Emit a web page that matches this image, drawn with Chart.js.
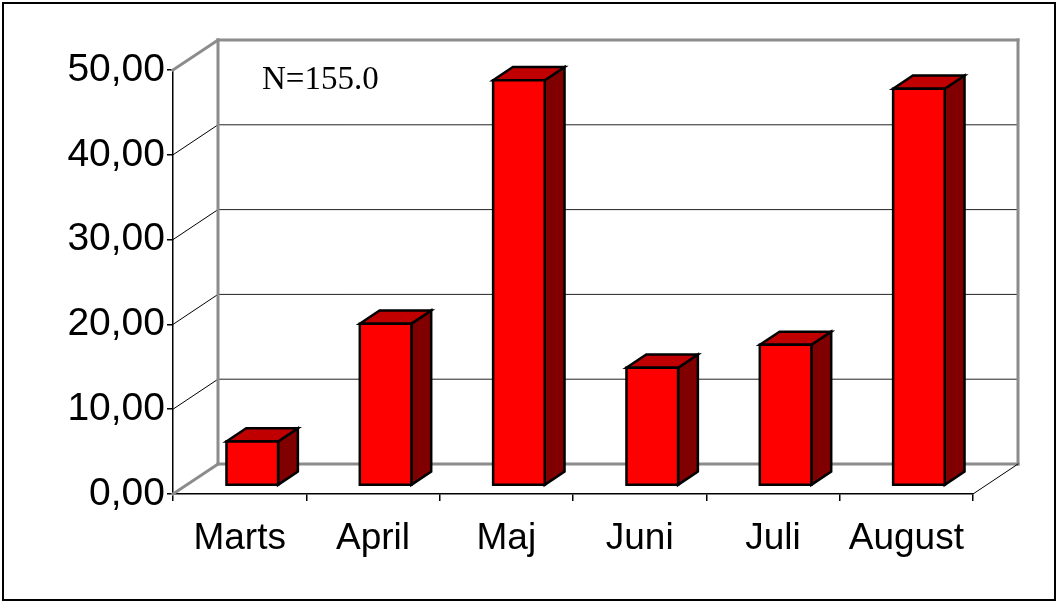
<!DOCTYPE html>
<html>
<head>
<meta charset="utf-8">
<script src="https://cdn.jsdelivr.net/npm/chart.js@4.4.1/dist/chart.umd.min.js"></script>
<style>
  html, body { margin: 0; padding: 0; background: #fff; }
  #wrap { width: 1058px; height: 603px; }
</style>
</head>
<body>
<div id="wrap"><canvas id="chart" width="1058" height="603"></canvas></div>
<script>
// Data
const months = ["Marts", "April", "Maj", "Juni", "Juli", "August"];
const shares = [5.2, 19.1, 47.8, 13.9, 16.6, 46.8];
const yTicks = [0, 10, 20, 30, 40, 50];
const noteText = "N=155.0";

// 3D look: how far the back wall sits from the front plane
const DEPTH_X = 45;
const DEPTH_Y = -30;
const BAR_FRONT = 0.28; // bar front face, as fraction of depth
const BAR_BACK = 0.72;  // bar back face

function line(ctx, x1, y1, x2, y2, color, width) {
  ctx.beginPath();
  ctx.moveTo(x1, y1);
  ctx.lineTo(x2, y2);
  ctx.strokeStyle = color;
  ctx.lineWidth = width;
  ctx.stroke();
}

const walls3d = {
  id: "walls3d",
  beforeDatasetsDraw(chart) {
    const { ctx, chartArea: a, scales } = chart;
    const y = scales.y;
    const lo = yTicks[0];
    const hi = yTicks[yTicks.length - 1];
    ctx.save();
    ctx.lineCap = "square";

    // inner grid lines: back wall + side wall
    yTicks.forEach((v) => {
      if (v === lo || v === hi) return;
      const py = y.getPixelForValue(v);
      line(ctx, a.left + DEPTH_X, py + DEPTH_Y, a.right + DEPTH_X, py + DEPTH_Y, "#222", 1);
      line(ctx, a.left, py, a.left + DEPTH_X, py + DEPTH_Y, "#000", 1);
    });

    // wall edges in grey
    const gray = "#8c8c8c";
    const top = y.getPixelForValue(hi);
    const bot = y.getPixelForValue(lo);
    line(ctx, a.left + DEPTH_X, top + DEPTH_Y, a.right + DEPTH_X, top + DEPTH_Y, gray, 3);
    line(ctx, a.left + DEPTH_X, bot + DEPTH_Y, a.right + DEPTH_X, bot + DEPTH_Y, gray, 3);
    line(ctx, a.left + DEPTH_X, top + DEPTH_Y, a.left + DEPTH_X, bot + DEPTH_Y, gray, 3);
    line(ctx, a.right + DEPTH_X, top + DEPTH_Y, a.right + DEPTH_X, bot + DEPTH_Y, gray, 3);
    line(ctx, a.left, top, a.left + DEPTH_X, top + DEPTH_Y, gray, 3);
    line(ctx, a.left, bot, a.left + DEPTH_X, bot + DEPTH_Y, gray, 3);

    // floor right edge
    line(ctx, a.right, bot, a.right + DEPTH_X, bot + DEPTH_Y, "#000", 1);
    ctx.restore();
  },

  afterDatasetsDraw(chart) {
    const { ctx } = chart;
    const meta = chart.getDatasetMeta(0);
    const ddx = (BAR_BACK - BAR_FRONT) * DEPTH_X;
    const ddy = (BAR_BACK - BAR_FRONT) * DEPTH_Y;
    ctx.save();
    ctx.lineJoin = "miter";
    ctx.lineWidth = 2.5;
    ctx.strokeStyle = "#000";

    meta.data.forEach((bar) => {
      const p = bar.getProps(["x", "y", "base", "width"], true);
      const left = p.x - p.width / 2 + BAR_FRONT * DEPTH_X;
      const right = left + p.width;
      const top = p.y + BAR_FRONT * DEPTH_Y;
      const bottom = p.base + BAR_FRONT * DEPTH_Y;

      // side
      ctx.beginPath();
      ctx.moveTo(right, top);
      ctx.lineTo(right + ddx, top + ddy);
      ctx.lineTo(right + ddx, bottom + ddy);
      ctx.lineTo(right, bottom);
      ctx.closePath();
      ctx.fillStyle = "#800000";
      ctx.fill();
      ctx.stroke();

      // top
      ctx.beginPath();
      ctx.moveTo(left, top);
      ctx.lineTo(right, top);
      ctx.lineTo(right + ddx, top + ddy);
      ctx.lineTo(left + ddx, top + ddy);
      ctx.closePath();
      ctx.fillStyle = "#c00000";
      ctx.fill();
      ctx.stroke();

      // front
      ctx.beginPath();
      ctx.rect(left, top, p.width, bottom - top);
      ctx.fillStyle = "#ff0000";
      ctx.fill();
      ctx.stroke();
    });
    ctx.restore();
  },

  afterDraw(chart) {
    const { ctx, chartArea: a } = chart;
    ctx.save();
    // note inside the plot
    ctx.font = "33px 'Liberation Serif', 'Times New Roman', serif";
    ctx.fillStyle = "#000";
    ctx.textBaseline = "alphabetic";
    ctx.fillText(noteText, a.left + 89, 89);

    // outer frame
    ctx.lineWidth = 2;
    ctx.strokeStyle = "#000";
    ctx.strokeRect(3, 3, 1052, 597);
    ctx.restore();
  },
};

const ctx = document.getElementById("chart").getContext("2d");
new Chart(ctx, {
  type: "bar",
  data: {
    labels: months,
    datasets: [
      {
        data: shares,
        backgroundColor: "rgba(0,0,0,0)",
        borderWidth: 0,
        categoryPercentage: 1,
        barPercentage: 0.387,
      },
    ],
  },
  options: {
    responsive: false,
    animation: false,
    layout: {
      padding: { top: 70, right: 85, left: 0, bottom: 0 },
    },
    scales: {
      y: {
        min: yTicks[0],
        max: yTicks[yTicks.length - 1],
        afterFit(scale) {
          scale.width = 173;
        },
        ticks: {
          stepSize: 10,
          padding: 2,
          color: "#000",
          font: { family: "'Liberation Sans', Arial, sans-serif", size: 39 },
          callback: (v) => v.toFixed(2).replace(".", ","),
        },
        grid: {
          drawOnChartArea: false,
          drawTicks: true,
          tickLength: 6,
          color: "#000",
          lineWidth: 1.5,
        },
        border: { display: true, color: "#000", width: 1.5 },
      },
      x: {
        afterFit(scale) {
          scale.height = 109;
        },
        ticks: {
          padding: 16,
          color: "#000",
          font: { family: "'Liberation Sans', Arial, sans-serif", size: 37 },
        },
        grid: {
          offset: true,
          drawOnChartArea: false,
          drawTicks: true,
          tickLength: 7,
          color: "#000",
          lineWidth: 1.5,
        },
        border: { display: true, color: "#000", width: 1.5 },
      },
    },
    plugins: {
      legend: { display: false },
      tooltip: { enabled: false },
    },
  },
  plugins: [walls3d],
});
</script>
</body>
</html>
